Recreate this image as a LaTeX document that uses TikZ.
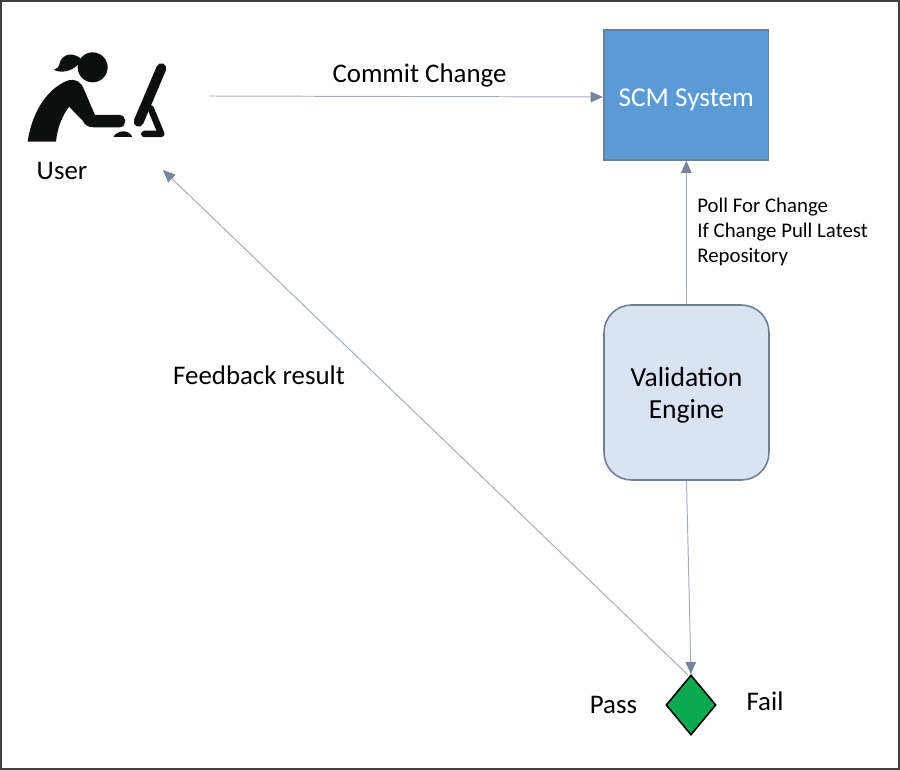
\documentclass[tikz,border=0pt]{standalone}
\usepackage{fontspec}
\setmainfont{Carlito}
\usepackage{tikz}
\usetikzlibrary{arrows.meta,positioning,shapes.geometric}
\definecolor{scmblue}{HTML}{5B9BD5}
\definecolor{enginefill}{HTML}{DAE3F3}
\definecolor{edgegray}{HTML}{6F7F92}
\definecolor{linkgray}{HTML}{A3ADBB}
\definecolor{tipgray}{HTML}{76859A}
\definecolor{gategreen}{HTML}{0BAA50}
\definecolor{inkblack}{HTML}{0D0F0E}
\tikzset{
  link/.style={line width=0.55pt,linkgray,-{Triangle[length=7pt,width=6pt,color=tipgray]}},
  lbl/.style={font=\fontsize{15.3}{16}\selectfont,text=black,inner sep=0pt},
}
\begin{document}
\begin{tikzpicture}[x=0.02cm,y=-0.02cm,line cap=butt]
\useasboundingbox (0,0) rectangle (900,770);
% frame
\draw[line width=1.1pt,black!75] (1,1) rectangle (899,769);
% user icon
\begin{scope}[x=0.00667cm,y=-0.00667cm]
  \fill[inkblack] (278,202) circle (0.3cm);
  % ponytail
  \fill[inkblack] (245,178) .. controls (225,160) and (195,155) .. (180,185)
     .. controls (178,200) and (172,207) .. (162,210)
     .. controls (185,220) and (215,215) .. (236,192) -- cycle;
  % body and arm
  \fill[inkblack] (83,425) .. controls (95,340) and (140,265) .. (205,241)
     .. controls (225,235) and (243,245) .. (252,268)
     -- (285,345) -- (358,345)
     .. controls (382,345) and (382,382) .. (358,382)
     -- (282,382) .. controls (262,382) and (255,375) .. (248,362)
     -- (207,320) .. controls (185,350) and (172,385) .. (168,425) -- cycle;
  % monitor
  \draw[inkblack,line width=0.2cm,line cap=round] (484,205)--(416,365);
  \draw[inkblack,line width=0.13cm,line cap=round,line join=round] (452,325)--(484,402)--(433,402);
  % mouse
  \fill[inkblack] (340,411) .. controls (350,392) and (385,385) .. (397,411) -- cycle;
\end{scope}
% nodes
\node[lbl] (user) at (62,171) {User};
\node[draw=edgegray,fill=scmblue,line width=0.8pt,minimum width=3.3cm,minimum height=2.6cm,inner sep=0pt,
  text=white,font=\fontsize{15.5}{18}\selectfont] (scm) at (686.3,95) {\rule{0pt}{0.54cm}SCM System};
\node[draw=edgegray,fill=enginefill,line width=0.9pt,rounded corners=0.55cm,minimum width=3.3cm,minimum height=3.5cm,
  inner sep=0pt,align=center,font=\fontsize{15.7}{18.2}\selectfont] (engine) at (686.5,392.5) {\rule{0pt}{0.48cm}Validation\\Engine};
\node[diamond,aspect=1,draw=black,fill=gategreen,line width=0.9pt,minimum width=1cm,minimum height=1.2cm,inner sep=0pt] (gate) at (691,705) {};
\node[lbl] (pass) at (613.5,705) {Pass};
\node[lbl] (fail) at (765,701) {Fail};
% connector ends
\coordinate (commitstart) at (209,96);
\coordinate (commitend) at (603,97);
\coordinate (feedbackstart) at (688,675);
\coordinate (feedbackend) at (163,170);
% connectors
\draw[link] (commitstart) -- (commitend);
\draw[link] (engine.north) -- (scm.south);
\draw[link] (engine.south) -- (gate.north);
\draw[link] (feedbackstart) -- (feedbackend);
% labels
\node[lbl] (commit) at (419.5,75) {Commit Change};
\node[lbl] (feedback) at (259,375) {Feedback result};
\node[inner sep=0pt,align=left,anchor=north west,font=\fontsize{11.85}{14.2}\selectfont] (poll) at (697,197.5) {Poll For Change\\If Change Pull Latest\\Repository};
\end{tikzpicture}
\end{document}
